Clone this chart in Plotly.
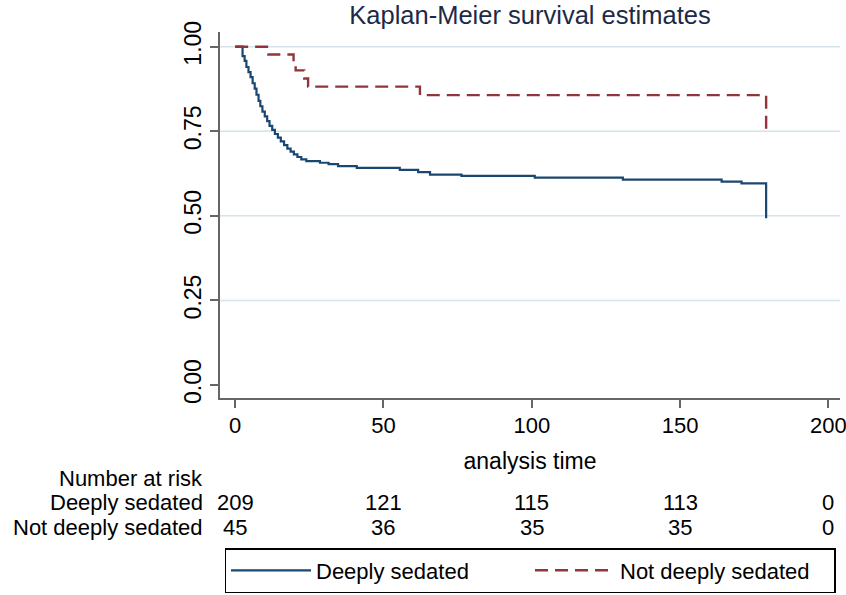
import plotly.graph_objects as go

# Data
deep_t = [0, 2.5, 3.2, 3.8, 4.5, 5.2, 5.9, 6.6, 7.2, 7.9, 8.5, 9.2, 10.0, 10.8, 11.6, 12.5,
          13.4, 14.4, 15.4, 16.5, 17.6, 18.7, 19.8, 21.0, 22.3, 24.0, 28.6, 31.5, 34.7, 41.0,
          55.5, 61.7, 65.7, 76.3, 101.0, 130.7, 164.0, 170.7, 179.0]
deep_s = [1.0, 0.972, 0.958, 0.94, 0.925, 0.91, 0.892, 0.876, 0.858, 0.84, 0.824, 0.808, 0.794,
          0.78, 0.766, 0.754, 0.742, 0.731, 0.72, 0.709, 0.699, 0.69, 0.682, 0.674, 0.667, 0.662,
          0.657, 0.653, 0.647, 0.642, 0.636, 0.629, 0.622, 0.618, 0.613, 0.607, 0.601, 0.596, 0.493]

notdeep_t = [0, 11.2, 19.7, 20.4, 23.3, 24.6, 62.3, 179.0]
notdeep_s = [1.0, 0.977, 0.952, 0.93, 0.906, 0.882, 0.857, 0.755]

risk_times = [0, 50, 100, 150, 200]
risk_deep = [209, 121, 115, 113, 0]
risk_notdeep = [45, 36, 35, 35, 0]
group_names = ["Deeply sedated", "Not deeply sedated"]

x_ticks = [0, 50, 100, 150, 200]
y_ticks = [0.0, 0.25, 0.5, 0.75, 1.0]
grid_vals = [0.25, 0.5, 0.75, 1.0]

FONT = "Liberation Sans, Arial, Helvetica, sans-serif"
BLUE = "#1a476f"
RED = "#90353b"

fig = go.Figure()
fig.add_trace(go.Scatter(x=deep_t, y=deep_s, mode="lines", line_shape="hv",
                         line=dict(color=BLUE, width=2.2), name=group_names[0]))
fig.add_trace(go.Scatter(x=notdeep_t, y=notdeep_s, mode="lines", line_shape="hv",
                         line=dict(color=RED, width=2.4, dash="13px,7px"), name=group_names[1]))

# gridlines (only at 0.25..1.00 as in reference)
for g in grid_vals:
    fig.add_shape(type="line", xref="paper", yref="y", x0=0, x1=1, y0=g, y1=g,
                  line=dict(color="#d5e4ea", width=1.5), layer="below")

# number at risk table
annotations = []
annotations.append(dict(x=-0.024, y=-0.2213, xref="paper", yref="paper", text="Number at risk",
                        showarrow=False, xanchor="right", yanchor="middle",
                        font=dict(size=22, color="black", family=FONT)))
row_y = [-0.2855, -0.3538]
for name, vals, ry in zip(group_names, [risk_deep, risk_notdeep], row_y):
    annotations.append(dict(x=-0.024, y=ry, xref="paper", yref="paper", text=name,
                            showarrow=False, xanchor="right", yanchor="middle",
                            font=dict(size=22, color="black", family=FONT)))
    for t, v in zip(risk_times, vals):
        annotations.append(dict(x=t, y=ry, xref="x", yref="paper", text=str(v),
                                showarrow=False, xanchor="center", yanchor="middle",
                                font=dict(size=22, color="black", family=FONT)))

fig.update_layout(
    width=846, height=595,
    margin=dict(l=220, r=6, t=32, b=197, autoexpand=False),
    paper_bgcolor="white", plot_bgcolor="white",
    font=dict(family=FONT, size=22, color="black"),
    title=dict(text="Kaplan-Meier survival estimates", x=0.5, xref="paper", xanchor="center",
               y=1 - 15 / 595, yanchor="middle",
               font=dict(size=25.5, color="#1c2a48", family=FONT)),
    xaxis=dict(range=[-5.1, 203.9], tickvals=x_ticks, ticktext=[str(v) for v in x_ticks],
               showgrid=False, zeroline=False, showline=True, linecolor="#666666", linewidth=1.5,
               ticks="outside", ticklen=8, tickwidth=1.5, tickcolor="#666666",
               tickfont=dict(size=22, family=FONT), ticklabelstandoff=-1,
               ticklabeloverflow="allow", automargin=False,
               title=dict(text="analysis time", standoff=16, font=dict(size=23, family=FONT))),
    yaxis=dict(range=[-0.0384, 1.0435], tickvals=y_ticks, ticktext=["0.00", "0.25", "0.50", "0.75", "1.00"],
               showgrid=False, zeroline=False, showline=True, linecolor="#666666", linewidth=1.5,
               ticks="outside", ticklen=8, tickwidth=1.5, tickcolor="#666666", tickangle=-90,
               tickfont=dict(size=23, family=FONT), automargin=False),
    legend=dict(orientation="h", x=0.5, xanchor="center", xref="paper",
                y=(595 - 548) / 595, yanchor="top", yref="container",
                bordercolor="black", borderwidth=1.5, bgcolor="white",
                font=dict(size=22, family=FONT), itemwidth=80, tracegroupgap=0,
                entrywidth=209, entrywidthmode="pixels"),
    annotations=annotations,
    showlegend=True,
)

fig.write_html("out.html",
               post_script="document.body.style.margin='0px';document.body.style.overflow='hidden';",
               config={"displayModeBar": False})
